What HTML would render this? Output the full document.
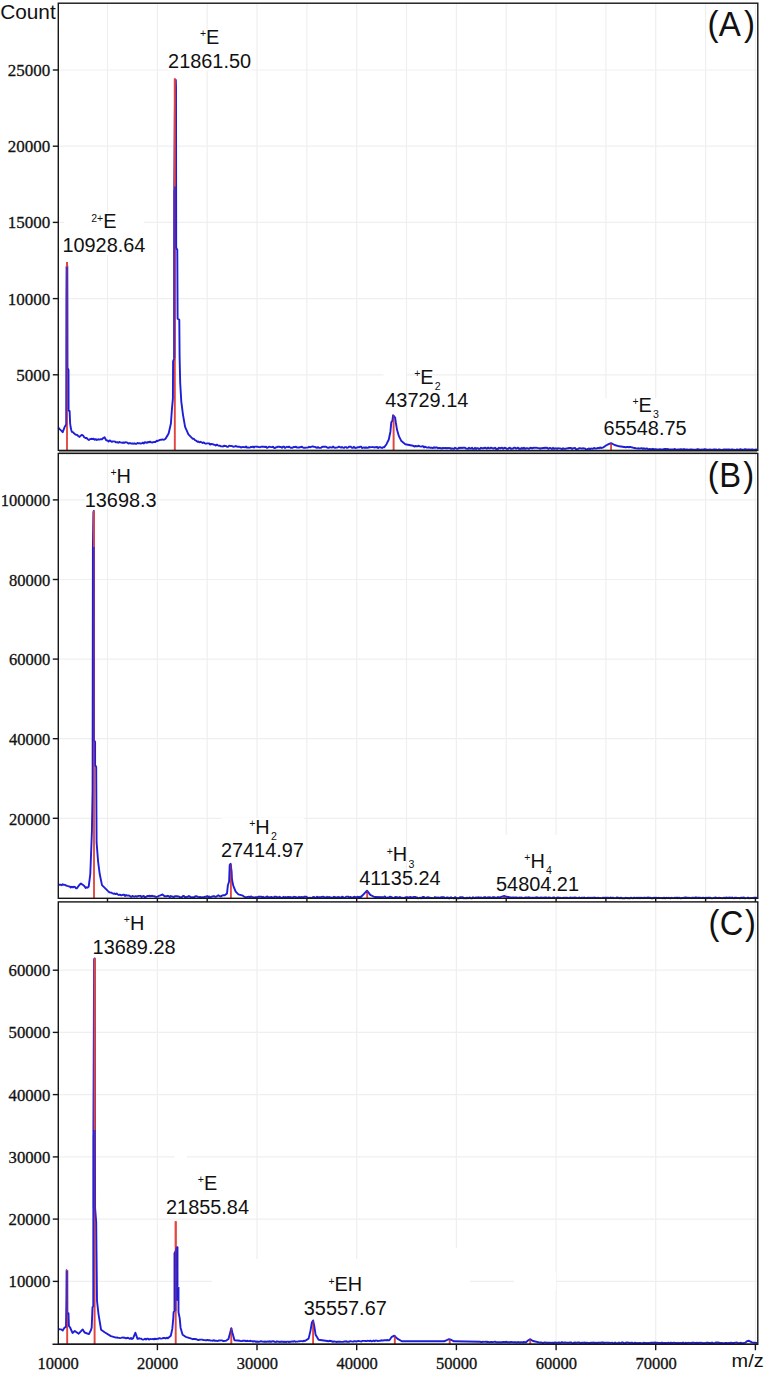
<!DOCTYPE html>
<html><head><meta charset="utf-8"><style>
html,body{margin:0;padding:0;background:#fff;}
body{width:765px;height:1373px;overflow:hidden;font-family:"Liberation Sans",sans-serif;}
svg{display:block;}
</style></head><body>
<svg width="765" height="1373" viewBox="0 0 765 1373">
<g stroke="#efefef" stroke-width="1.2"><line x1="107.5" y1="3.2" x2="107.5" y2="450.4"/><line x1="157.4" y1="3.2" x2="157.4" y2="450.4"/><line x1="207.2" y1="3.2" x2="207.2" y2="450.4"/><line x1="257.0" y1="3.2" x2="257.0" y2="450.4"/><line x1="306.9" y1="3.2" x2="306.9" y2="450.4"/><line x1="356.7" y1="3.2" x2="356.7" y2="450.4"/><line x1="406.5" y1="3.2" x2="406.5" y2="450.4"/><line x1="456.4" y1="3.2" x2="456.4" y2="450.4"/><line x1="506.2" y1="3.2" x2="506.2" y2="450.4"/><line x1="556.1" y1="3.2" x2="556.1" y2="450.4"/><line x1="605.9" y1="3.2" x2="605.9" y2="450.4"/><line x1="655.7" y1="3.2" x2="655.7" y2="450.4"/><line x1="705.6" y1="3.2" x2="705.6" y2="450.4"/><line x1="755.4" y1="3.2" x2="755.4" y2="450.4"/><line x1="58.3" y1="374.8" x2="757.8" y2="374.8"/><line x1="58.3" y1="298.6" x2="757.8" y2="298.6"/><line x1="58.3" y1="222.4" x2="757.8" y2="222.4"/><line x1="58.3" y1="146.2" x2="757.8" y2="146.2"/><line x1="58.3" y1="70.0" x2="757.8" y2="70.0"/><line x1="107.5" y1="453.4" x2="107.5" y2="898.3"/><line x1="157.4" y1="453.4" x2="157.4" y2="898.3"/><line x1="207.2" y1="453.4" x2="207.2" y2="898.3"/><line x1="257.0" y1="453.4" x2="257.0" y2="898.3"/><line x1="306.9" y1="453.4" x2="306.9" y2="898.3"/><line x1="356.7" y1="453.4" x2="356.7" y2="898.3"/><line x1="406.5" y1="453.4" x2="406.5" y2="898.3"/><line x1="456.4" y1="453.4" x2="456.4" y2="898.3"/><line x1="506.2" y1="453.4" x2="506.2" y2="898.3"/><line x1="556.1" y1="453.4" x2="556.1" y2="898.3"/><line x1="605.9" y1="453.4" x2="605.9" y2="898.3"/><line x1="655.7" y1="453.4" x2="655.7" y2="898.3"/><line x1="705.6" y1="453.4" x2="705.6" y2="898.3"/><line x1="755.4" y1="453.4" x2="755.4" y2="898.3"/><line x1="58.3" y1="818.3" x2="757.8" y2="818.3"/><line x1="58.3" y1="738.7" x2="757.8" y2="738.7"/><line x1="58.3" y1="659.1" x2="757.8" y2="659.1"/><line x1="58.3" y1="579.5" x2="757.8" y2="579.5"/><line x1="58.3" y1="499.9" x2="757.8" y2="499.9"/><line x1="157.4" y1="901.9" x2="157.4" y2="1344.3"/><line x1="257.0" y1="901.9" x2="257.0" y2="1344.3"/><line x1="356.7" y1="901.9" x2="356.7" y2="1344.3"/><line x1="456.4" y1="901.9" x2="456.4" y2="1344.3"/><line x1="556.1" y1="901.9" x2="556.1" y2="1344.3"/><line x1="655.7" y1="901.9" x2="655.7" y2="1344.3"/><line x1="755.4" y1="901.9" x2="755.4" y2="1344.3"/><line x1="58.3" y1="1281.4" x2="757.8" y2="1281.4"/><line x1="58.3" y1="1219.1" x2="757.8" y2="1219.1"/><line x1="58.3" y1="1156.9" x2="757.8" y2="1156.9"/><line x1="58.3" y1="1094.6" x2="757.8" y2="1094.6"/><line x1="58.3" y1="1032.4" x2="757.8" y2="1032.4"/><line x1="58.3" y1="970.2" x2="757.8" y2="970.2"/></g>
<g fill="#fff"><rect x="64" y="213" width="80" height="42"/><rect x="168" y="29" width="83.5" height="41.5"/><rect x="383.5" y="370" width="22.19999999999999" height="10"/><rect x="603" y="398" width="84" height="40"/><rect x="85" y="492" width="71" height="16"/><rect x="221" y="818" width="83" height="42"/><rect x="497" y="835" width="81" height="58"/><rect x="174.5" y="1150" width="12.5" height="12"/><rect x="212" y="1259" width="251" height="84"/><rect x="514" y="1272" width="42" height="18"/><rect x="440" y="1248" width="30" height="95"/></g>
<g stroke="#e2463f" stroke-width="1.8"><line x1="67.0" y1="262" x2="67.0" y2="450.4"/><line x1="174.8" y1="78.5" x2="174.8" y2="450.4"/><line x1="393.6" y1="415" x2="393.6" y2="450.4"/><line x1="611.1" y1="443.1" x2="611.1" y2="450.4"/><line x1="94.0" y1="510.9" x2="94.0" y2="898.3"/><line x1="230.9" y1="864" x2="230.9" y2="898.3"/><line x1="367.2" y1="890.7" x2="367.2" y2="898.3"/><line x1="504.2" y1="896" x2="504.2" y2="898.3"/><line x1="67.2" y1="1270" x2="67.2" y2="1344.3"/><line x1="94.6" y1="958.3" x2="94.6" y2="1344.3"/><line x1="175.7" y1="1221.3" x2="175.7" y2="1344.3"/><line x1="231.3" y1="1328" x2="231.3" y2="1344.3"/><line x1="313.1" y1="1320.4" x2="313.1" y2="1344.3"/><line x1="394.8" y1="1335.4" x2="394.8" y2="1344.3"/><line x1="449.7" y1="1339" x2="449.7" y2="1344.3"/><line x1="530.3" y1="1339.2" x2="530.3" y2="1344.3"/></g>
<g fill="#3212a8"><polygon points="174.3,1253.0 176.5,1247.0 177.8,1247.0 177.8,1287.0 176.4,1287.0 176.4,1311.0 174.3,1311.0"/><polygon points="92.9,1135.0 94.5,1135.0 95.3,1208.0 92.9,1208.0"/><polygon points="173.6,190.0 175.3,190.0 175.3,358.0 173.6,358.0"/></g>
<polyline fill="none" stroke="#1e1ed8" stroke-width="1.9" stroke-linejoin="round" points="58.3,427.5 59.9,429.4 61.3,430.6 62.7,432.2 64.6,427.1 65.8,425.0 66.2,424.7 66.4,300.0 66.6,266.7 67.3,266.0 67.4,300.0 67.5,368.0 68.5,370.0 68.6,410.6 69.6,411.0 70.1,423.1 70.6,427.0 71.3,430.0 71.8,431.8 72.9,432.1 74.0,433.3 75.2,434.3 76.4,434.9 77.4,435.0 78.5,436.3 79.5,436.9 80.7,435.7 81.9,434.9 83.1,435.5 84.2,437.3 85.4,438.0 86.6,438.0 87.7,439.2 88.9,440.0 90.1,439.1 91.2,438.8 92.4,439.0 93.6,438.8 94.7,439.7 95.7,439.1 96.8,440.0 98.1,439.3 99.4,439.6 100.7,439.2 102.0,439.2 103.3,438.0 104.6,437.3 106.2,440.4 107.4,440.5 108.6,441.5 109.7,440.4 110.9,441.2 111.9,441.9 112.9,441.4 114.0,441.4 115.0,441.6 116.0,442.4 117.1,442.1 118.2,442.8 119.3,442.0 120.4,442.4 121.4,442.6 122.4,442.8 123.4,442.5 124.4,442.9 125.4,442.3 126.4,442.4 127.4,442.7 128.4,443.5 129.4,443.2 130.4,443.1 131.4,443.6 132.4,443.5 133.4,443.7 134.4,443.3 135.5,443.9 136.5,443.7 137.6,443.0 138.6,443.4 139.7,443.2 140.7,443.6 141.8,443.3 142.8,442.6 143.9,443.5 144.9,442.2 145.9,442.5 147.0,442.9 148.0,442.0 149.1,442.3 150.1,441.6 151.2,442.4 152.2,442.5 153.3,442.1 154.3,441.9 155.4,442.0 156.6,440.8 157.7,441.0 158.9,440.4 160.0,439.9 161.1,439.8 162.2,439.4 163.3,439.7 164.4,439.6 165.5,438.8 166.6,436.9 167.6,435.4 168.7,433.3 170.9,423.5 172.0,408.2 172.9,398.4 173.1,361.2 174.2,359.0 174.3,186.5 174.8,120.0 175.2,80.0 175.8,80.0 176.0,87.3 176.2,247.6 177.3,250.0 177.6,318.6 179.3,319.7 179.6,356.8 180.2,383.0 181.3,401.6 183.0,414.8 185.1,426.8 188.4,434.4 192.8,438.8 193.9,438.7 195.0,440.2 196.1,440.6 197.2,441.7 198.3,441.5 199.4,442.3 200.5,441.8 201.6,442.3 202.6,443.0 203.7,442.4 204.8,443.3 205.9,443.7 207.0,443.4 208.1,443.4 209.2,443.5 210.2,444.6 211.3,443.9 212.4,444.2 213.5,444.5 214.6,444.8 215.7,445.5 216.8,444.6 217.8,445.3 218.9,445.7 220.0,445.8 221.0,446.4 222.0,446.4 223.0,446.5 224.0,445.7 225.0,446.0 226.0,445.9 227.0,446.7 228.0,446.9 229.0,445.8 230.0,445.9 231.0,446.0 232.0,446.1 233.0,446.5 234.0,446.7 235.0,446.3 236.0,446.0 237.0,446.6 238.0,446.8 239.0,446.6 240.0,446.9 241.0,447.5 242.0,447.2 243.0,446.9 244.0,447.1 245.0,447.2 246.0,446.4 247.0,447.6 248.0,447.4 249.0,447.6 250.0,447.5 251.0,446.9 252.0,447.0 253.0,446.6 254.0,447.4 255.0,446.6 256.0,446.6 257.0,446.8 258.0,446.8 259.0,447.1 260.0,447.3 261.0,446.7 262.0,446.6 263.0,446.8 264.0,446.7 265.0,447.1 266.0,446.6 267.0,447.8 268.0,447.4 269.0,446.8 270.0,446.9 271.0,447.1 272.0,447.1 273.0,446.7 274.0,447.8 275.0,448.0 276.0,447.2 277.0,447.2 278.0,446.7 279.0,446.7 280.0,447.0 281.0,446.9 282.0,447.7 283.0,446.8 284.0,446.6 285.0,447.9 286.0,447.3 287.0,446.7 288.0,447.3 289.0,446.6 290.0,447.3 291.0,447.9 292.0,447.7 293.0,447.5 294.0,446.9 295.0,447.0 296.0,446.7 297.0,447.6 298.0,447.3 299.0,447.6 300.0,447.2 301.0,447.0 302.0,446.8 303.0,447.6 304.0,447.9 305.0,447.7 306.0,447.6 307.0,447.6 308.0,447.5 309.0,446.8 310.0,447.2 311.0,447.0 312.0,446.5 313.0,446.5 314.0,446.9 315.0,446.9 316.0,447.5 317.0,447.8 318.0,447.1 319.0,447.8 320.0,447.9 321.0,447.8 322.0,447.0 323.0,446.8 324.0,446.8 325.0,446.8 326.0,446.8 327.0,447.4 328.0,447.8 329.0,447.7 330.0,447.2 331.0,447.4 332.0,447.6 333.0,446.6 334.0,447.4 335.0,447.8 336.0,447.6 337.0,447.6 338.0,447.2 339.0,446.7 340.0,447.2 341.0,447.6 342.0,447.0 343.0,447.6 344.0,447.9 345.0,447.1 346.0,447.1 347.0,447.9 348.0,447.6 349.0,446.8 350.0,446.7 351.0,446.8 352.0,447.8 353.0,447.7 354.0,446.8 355.0,447.8 356.0,448.0 357.0,447.5 358.0,447.1 359.0,447.4 360.0,446.8 361.0,446.7 362.0,448.0 363.0,447.6 364.0,447.4 365.0,448.0 366.0,447.3 367.0,447.9 368.0,447.8 369.0,447.0 370.0,447.4 371.0,447.1 372.0,447.1 373.0,447.0 374.0,447.5 375.0,447.1 376.0,447.3 377.1,446.9 378.1,448.0 379.1,447.2 380.1,447.3 381.1,447.5 382.1,448.0 383.1,447.3 384.1,447.4 386.5,444.2 388.8,439.5 390.4,431.7 391.3,422.3 392.4,420.7 393.1,415.2 394.3,416.8 395.1,417.5 395.9,423.0 397.1,430.1 399.0,436.4 401.4,441.1 405.3,444.2 413.1,445.8 414.2,446.5 415.4,446.0 416.5,446.2 417.6,446.3 418.7,445.7 419.9,446.4 421.0,446.6 422.0,446.3 423.0,446.1 424.0,447.4 425.0,446.6 426.0,447.2 427.0,447.6 428.0,447.5 429.0,447.3 430.0,447.7 431.0,447.7 432.0,447.8 433.0,448.1 434.0,447.2 435.0,447.9 436.0,447.4 437.0,447.5 438.0,448.2 439.0,447.9 440.0,448.0 441.0,448.2 442.0,448.5 443.0,447.8 444.0,448.1 445.0,448.0 446.0,448.0 447.0,448.3 448.0,447.9 449.0,448.1 450.0,448.0 451.0,448.7 452.0,448.3 453.0,448.6 454.0,448.7 455.0,447.8 456.0,448.2 457.0,448.8 458.0,448.6 459.0,447.7 460.0,448.2 461.0,447.7 462.0,448.1 463.0,447.6 464.0,447.8 465.0,447.6 466.0,448.5 467.0,448.6 468.0,448.8 469.0,447.7 470.0,448.5 471.0,448.5 472.0,447.7 473.0,448.8 474.0,448.9 475.0,447.8 476.0,448.9 477.0,448.1 478.0,448.2 479.0,448.9 480.0,448.7 481.0,447.8 482.0,448.2 483.0,448.3 484.0,448.0 485.0,447.8 486.0,448.0 487.0,448.6 488.0,447.6 489.0,448.3 490.0,448.2 491.0,447.6 492.0,448.0 493.0,448.5 494.0,448.3 495.0,447.7 496.0,449.0 497.0,448.7 498.0,449.0 499.0,447.7 500.0,448.3 501.0,448.0 502.0,447.7 503.0,448.7 504.0,448.0 505.0,447.8 506.0,448.2 507.0,448.9 508.0,448.8 509.0,448.0 510.0,447.8 511.0,448.9 512.0,448.4 513.0,448.6 514.0,447.7 515.0,447.7 516.0,448.6 517.0,448.2 518.0,447.7 519.0,448.9 520.0,448.5 521.0,448.8 522.0,447.8 523.0,448.8 524.0,447.7 525.0,448.8 526.0,448.3 527.0,448.1 528.0,448.4 529.0,448.9 530.0,448.0 531.0,447.8 532.0,448.4 533.0,448.0 534.0,447.8 535.0,447.9 536.0,447.7 537.0,447.9 538.0,448.1 539.0,448.1 540.0,448.7 541.0,448.1 542.0,448.4 543.0,447.9 544.0,448.2 545.0,447.7 546.0,448.0 547.0,447.7 548.0,448.7 549.0,448.5 550.0,447.9 551.0,448.3 552.0,449.0 553.0,447.8 554.0,448.8 555.0,448.3 556.0,448.4 557.0,448.9 558.0,448.2 559.0,448.4 560.0,448.4 561.0,448.7 562.0,449.1 563.0,448.2 564.0,448.9 565.0,448.8 566.0,448.7 567.0,448.4 568.0,448.3 569.0,447.9 570.0,448.0 571.0,447.9 572.0,448.9 573.0,448.2 574.0,448.1 575.0,448.0 576.0,449.1 577.0,449.1 578.0,448.9 579.0,448.3 580.0,448.3 581.0,448.4 582.0,448.6 583.0,448.2 584.0,448.6 585.0,448.4 586.0,449.4 587.0,449.4 588.0,448.8 589.0,448.4 590.0,449.4 591.0,448.5 592.0,448.6 593.0,448.8 594.0,448.0 595.0,448.4 596.0,448.5 597.0,448.4 598.0,447.9 599.0,448.2 600.0,447.4 601.0,448.0 603.5,447.3 606.0,445.5 608.1,444.4 611.1,443.1 614.6,445.0 619.2,446.3 625.8,447.3 626.8,447.0 627.8,446.9 628.8,447.4 629.8,447.0 630.8,447.0 631.8,447.5 632.8,447.5 633.8,448.0 634.8,448.0 635.8,448.4 636.8,448.4 637.8,448.5 638.8,448.3 639.8,448.6 640.8,448.3 641.8,448.3 642.8,448.9 643.8,448.3 644.8,448.8 645.8,448.8 646.8,448.4 647.8,449.0 648.8,449.1 649.8,449.0 650.8,449.1 651.8,449.2 652.8,448.8 653.8,449.1 654.8,449.2 655.8,449.2 656.8,449.4 657.8,449.4 658.8,449.5 659.8,449.3 660.8,449.5 661.8,449.4 662.8,449.4 663.8,449.1 664.8,449.0 665.8,449.0 666.8,449.2 667.9,449.0 668.9,449.6 669.9,449.4 670.9,449.4 671.9,449.4 672.9,449.5 673.9,449.4 674.9,449.0 675.9,449.6 676.9,449.6 677.9,449.4 678.9,449.4 679.9,449.5 680.9,449.1 681.9,449.6 682.9,449.3 683.9,449.2 684.9,449.3 685.9,449.6 686.9,449.3 687.9,449.7 689.0,449.8 690.0,449.5 691.0,449.4 692.0,449.5 693.0,449.7 694.0,449.7 695.0,449.6 696.0,449.7 697.0,449.3 698.0,449.3 699.0,449.4 700.0,449.6 701.0,449.8 702.0,449.5 703.0,449.6 704.0,449.3 705.0,449.3 706.0,449.4 707.0,449.7 708.0,449.7 709.0,449.7 710.0,449.5 711.0,449.6 712.0,449.6 713.0,449.6 714.0,449.3 715.0,449.9 716.0,449.4 717.0,449.9 718.0,449.9 719.0,449.3 720.0,449.6 721.0,449.8 722.0,449.9 723.0,449.6 724.0,449.4 725.0,449.4 726.0,449.9 727.0,449.4 728.0,449.7 729.0,449.3 730.0,449.6 731.0,449.9 732.0,449.3 733.0,449.8 734.0,449.6 735.0,449.9 736.0,449.7 737.0,449.4 738.0,449.9 739.0,449.6 740.0,449.3 741.0,449.3 742.0,449.6 743.0,449.6 744.0,449.5 745.0,449.3 746.0,449.5 747.0,449.5 748.0,449.8 749.0,449.3 750.0,449.8 751.0,449.8 752.0,449.3 753.0,449.9 754.0,449.7 755.0,449.9 756.0,449.5 757.0,449.6"/>
<polyline fill="none" stroke="#1e1ed8" stroke-width="1.9" stroke-linejoin="round" points="58.3,885.1 59.4,884.7 60.5,884.6 61.7,885.2 62.8,884.3 63.9,884.8 64.9,884.9 66.0,885.5 67.2,885.9 68.3,886.2 69.5,886.4 70.7,887.5 71.7,886.7 72.8,887.4 73.8,886.7 74.9,886.9 75.9,888.3 77.0,888.2 78.3,886.3 79.6,884.7 80.9,883.5 82.0,884.3 83.0,885.0 84.3,886.0 85.6,887.9 86.6,887.3 87.7,887.7 88.7,886.7 90.3,874.0 91.9,831.8 92.6,790.0 92.9,547.0 93.4,512.0 93.8,511.0 93.9,740.0 95.1,742.0 95.1,765.0 96.2,767.0 96.6,842.7 98.1,861.6 99.7,874.0 102.0,885.1 108.3,891.4 109.3,892.3 110.4,892.5 111.4,892.6 112.5,893.4 113.5,893.7 114.6,893.5 115.6,894.1 116.7,893.5 117.7,894.5 118.7,895.0 119.8,894.7 120.8,895.2 121.9,895.2 122.9,894.8 124.0,894.6 125.0,896.0 126.1,895.0 127.1,895.6 128.2,895.5 129.2,895.6 130.3,896.4 131.3,896.8 132.4,895.9 133.4,896.4 134.4,896.6 135.5,896.1 136.5,896.5 137.5,896.3 138.5,895.9 139.6,895.9 140.6,896.0 141.6,897.0 142.6,896.4 143.7,896.0 144.7,897.0 145.7,897.1 146.7,896.3 147.8,895.9 148.8,896.0 149.8,895.8 150.8,896.2 151.8,895.8 152.9,896.0 153.9,896.1 154.9,896.5 155.9,896.9 157.0,896.7 158.0,896.4 159.2,895.7 160.5,895.3 161.5,894.8 162.5,894.5 163.7,895.5 164.8,896.4 165.8,896.2 166.8,896.2 167.8,895.8 168.8,896.1 169.8,897.1 170.8,896.0 171.8,896.5 172.8,896.7 173.9,897.0 174.9,896.1 175.9,896.2 176.9,896.2 177.9,896.4 178.9,896.5 179.9,897.2 180.9,897.1 181.9,897.2 182.9,896.0 183.9,896.0 184.9,897.0 185.9,897.3 186.9,896.7 187.9,896.9 188.9,896.0 189.9,896.6 190.9,897.4 192.0,897.2 193.0,897.3 194.0,897.5 195.0,896.5 196.0,896.3 197.0,896.4 198.0,896.9 199.0,897.1 200.0,896.9 201.0,897.5 202.1,897.2 203.1,897.1 204.1,897.2 205.2,896.7 206.2,896.9 207.2,896.1 208.2,897.1 209.3,896.4 210.3,897.3 211.3,896.9 212.4,896.4 213.4,896.1 214.4,896.3 215.5,896.8 216.5,896.6 218.3,895.3 219.7,896.2 221.0,896.6 222.2,895.6 223.5,895.1 224.7,895.3 227.0,893.4 227.9,885.2 229.1,881.5 229.7,865.1 230.6,863.7 231.6,871.5 232.0,879.7 233.4,886.1 235.7,891.6 238.4,894.3 242.1,895.3 244.8,897.0 245.8,897.1 246.8,897.2 247.8,896.9 248.8,896.7 249.9,897.2 250.9,896.4 251.9,896.9 252.9,897.1 253.9,897.8 254.9,897.2 256.1,897.2 257.4,897.3 258.6,896.6 259.8,896.8 261.0,896.6 262.2,897.2 263.2,896.8 264.2,897.9 265.3,897.5 266.3,896.9 267.3,896.5 268.3,897.2 269.4,897.5 270.4,897.1 271.4,896.9 272.4,897.5 273.4,897.8 274.5,896.8 275.5,896.6 276.5,897.0 277.5,897.1 278.5,897.5 279.6,896.8 280.6,897.7 281.6,897.6 282.6,897.3 283.7,896.8 284.7,897.9 285.7,897.0 286.7,897.7 287.7,896.9 288.8,896.9 289.8,897.6 290.8,897.0 291.8,897.9 292.8,897.3 293.9,896.8 294.9,896.9 295.9,897.2 296.9,897.5 298.0,897.9 299.0,896.8 300.0,897.3 301.0,897.2 302.0,896.9 303.0,898.0 304.0,896.8 305.0,896.7 306.0,896.7 307.0,897.2 308.0,897.9 309.0,897.9 310.0,897.7 311.0,898.0 312.0,897.9 313.0,897.1 314.0,896.9 315.0,897.9 316.0,897.7 317.0,896.7 318.0,897.6 319.0,897.2 320.0,897.2 321.0,897.1 322.0,896.9 323.0,896.7 324.0,897.1 325.0,897.2 326.0,898.0 327.0,896.8 328.0,898.0 329.0,897.0 330.0,897.2 331.0,897.8 332.0,897.8 333.0,897.3 334.0,896.8 335.0,897.4 336.0,897.2 337.0,898.0 338.0,897.0 339.0,897.2 340.0,897.4 341.0,897.9 342.1,896.7 343.1,897.2 344.2,897.8 345.2,897.7 346.3,896.6 347.3,896.6 348.4,896.6 349.4,897.8 350.4,896.9 351.5,897.5 352.5,897.7 353.6,896.9 354.6,896.8 355.7,897.7 356.7,897.2 357.8,896.7 358.8,897.3 359.9,896.8 360.9,897.0 364.0,893.8 367.0,890.7 370.3,894.9 374.5,897.0 382.9,897.2 383.9,896.9 384.9,896.5 385.9,897.6 386.9,897.8 387.9,897.4 388.9,897.9 389.9,896.6 390.9,896.9 391.9,897.3 392.9,897.9 393.9,898.0 394.9,897.2 395.9,897.0 396.9,897.3 397.9,897.4 398.9,898.0 399.9,896.9 400.9,897.8 402.0,897.7 403.0,897.9 404.0,897.8 405.0,897.6 406.0,897.2 407.0,897.2 408.0,897.3 409.0,897.9 410.0,896.9 411.0,897.1 412.0,897.9 413.0,897.2 414.0,896.9 415.0,896.9 416.0,897.6 417.0,897.3 418.0,898.3 419.0,898.1 420.0,897.6 421.0,898.3 422.0,897.3 423.0,897.0 424.0,897.0 425.0,897.6 426.0,897.9 427.0,897.5 428.0,897.3 429.0,897.5 430.0,897.8 431.0,897.9 432.0,898.0 433.0,898.1 434.0,897.9 435.0,897.1 436.0,898.1 437.0,897.4 438.0,897.8 439.0,897.5 440.0,898.0 441.0,897.2 442.0,897.3 443.0,897.3 444.0,897.2 445.0,898.2 446.0,897.8 447.0,897.4 448.0,897.5 449.0,898.4 450.0,897.7 451.0,897.3 452.0,898.1 453.0,897.9 454.0,898.4 455.0,897.2 456.0,897.7 457.0,898.2 458.0,898.2 459.0,898.3 460.0,897.1 461.0,897.4 462.0,897.2 463.0,897.3 464.0,898.4 465.0,897.9 466.0,898.4 467.0,897.6 468.0,898.3 469.0,897.7 470.0,897.4 471.0,898.2 472.0,898.4 473.0,897.2 474.0,897.9 475.0,898.0 476.0,897.4 477.0,897.6 478.0,897.3 479.0,897.4 480.0,897.8 481.0,897.4 482.0,897.9 483.0,898.0 484.0,897.3 485.0,897.1 486.0,897.5 487.0,898.0 488.0,897.3 489.0,897.4 490.0,897.3 491.0,898.1 492.0,897.7 493.0,897.1 494.0,897.1 495.0,897.5 496.0,897.7 497.0,897.8 498.0,897.0 499.0,897.6 502.0,896.6 504.2,896.0 506.5,896.8 512.0,897.6 513.0,897.3 514.0,897.8 515.0,897.5 516.0,897.4 517.0,897.5 518.0,898.0 519.0,897.5 520.0,897.7 521.0,897.5 522.0,897.6 523.0,897.9 524.0,898.0 525.0,897.5 526.0,897.4 527.0,897.8 528.0,897.4 529.0,897.3 530.0,898.0 531.0,897.6 532.0,897.9 533.0,897.6 534.0,898.0 535.0,897.6 536.0,897.4 537.0,897.3 538.0,897.7 539.0,897.8 540.0,898.0 541.0,897.4 542.0,897.8 543.0,897.6 544.0,897.7 545.0,897.4 546.0,897.5 547.0,897.7 548.0,898.1 549.0,897.4 550.0,897.7 551.0,898.0 552.0,898.1 553.0,897.5 554.0,897.4 555.0,898.1 556.0,898.1 557.0,897.7 558.0,897.4 559.0,898.1 560.0,897.7 561.0,898.1 562.0,897.9 563.0,898.0 564.0,897.5 565.0,898.0 566.0,897.6 567.0,897.7 568.0,898.1 569.0,898.1 570.0,897.5 571.0,897.6 572.0,897.7 573.0,897.8 574.0,897.7 575.0,897.5 576.0,897.6 577.0,898.0 578.0,898.1 579.0,897.5 580.0,897.9 581.0,898.0 582.0,897.5 583.0,898.1 584.0,897.5 585.0,897.9 586.0,897.9 587.0,898.0 588.0,897.7 589.0,897.8 590.0,897.9 591.0,897.8 592.0,898.0 593.0,897.8 594.0,897.8 595.0,897.5 596.0,898.0 597.0,897.9 598.0,897.7 599.0,898.1 600.0,897.9 601.0,898.1 602.0,897.9 603.0,897.6 604.0,897.9 605.0,897.6 606.0,897.6 607.0,897.8 608.0,897.6 609.0,897.9 610.0,897.9 611.0,897.5 612.0,898.0 613.0,897.6 614.0,898.1 615.0,898.1 616.0,897.9 617.0,897.5 618.0,897.9 619.0,897.8 620.0,898.3 621.0,897.6 622.0,898.2 623.0,898.3 624.0,898.1 625.0,898.2 626.0,897.7 627.0,898.3 628.0,897.9 629.0,898.3 630.0,898.2 631.0,897.6 632.0,898.1 633.0,898.2 634.0,897.6 635.0,897.8 636.0,898.1 637.0,897.6 638.0,898.2 639.0,897.7 640.0,898.2 641.0,897.6 642.0,897.9 643.0,898.2 644.0,897.7 645.0,897.7 646.0,897.9 647.0,897.8 648.0,897.5 649.0,897.6 650.0,897.6 651.0,898.2 652.0,898.0 653.0,898.2 654.0,897.6 655.0,898.1 656.0,897.6 657.0,897.9 658.0,898.0 659.0,897.8 660.0,898.2 661.0,897.9 662.0,898.0 663.0,898.2 664.0,897.6 665.0,898.3 666.0,898.0 667.0,897.8 668.0,898.1 669.0,897.7 670.0,898.3 671.0,898.0 672.0,897.8 673.0,898.1 674.0,897.9 675.0,897.6 676.0,898.1 677.0,897.5 678.0,898.2 679.0,897.7 680.0,898.0 681.0,898.3 682.0,898.0 683.0,898.0 684.0,897.8 685.0,897.5 686.0,897.5 687.0,897.6 688.0,898.0 689.0,897.8 690.0,897.9 691.0,898.2 692.0,897.6 693.0,897.7 694.0,898.0 695.0,897.5 696.0,897.5 697.0,897.8 698.0,897.6 699.0,897.8 700.0,897.7 701.0,898.0 702.0,898.0 703.0,897.7 704.0,898.0 705.0,897.9 706.0,897.6 707.0,898.2 708.0,897.7 709.0,897.6 710.0,897.6 711.0,898.0 712.0,898.2 713.0,898.1 714.0,897.8 715.0,897.7 716.0,897.5 717.0,898.0 718.0,897.9 719.0,897.8 720.0,898.0 721.0,897.9 722.0,898.2 723.0,898.1 724.0,897.7 725.0,898.2 726.0,897.5 727.0,897.9 728.0,897.8 729.0,897.7 730.0,897.5 731.0,898.1 732.0,897.5 733.0,897.9 734.0,898.3 735.0,897.6 736.0,897.7 737.0,898.0 738.0,897.9 739.0,898.0 740.0,898.2 741.0,897.6 742.0,897.7 743.0,897.7 744.0,897.5 745.0,898.2 746.0,898.1 747.0,898.1 748.0,897.5 749.0,898.2 750.0,898.1 751.0,897.9 752.0,898.1 753.0,897.9 754.0,897.7 755.0,897.6 756.0,897.7 757.0,897.9"/>
<polyline fill="none" stroke="#1e1ed8" stroke-width="1.9" stroke-linejoin="round" points="58.3,1329.0 59.9,1329.4 61.3,1329.4 62.7,1330.6 64.6,1327.5 66.0,1327.1 66.4,1300.0 66.6,1270.2 67.2,1271.0 67.3,1314.1 68.5,1313.3 68.9,1325.9 70.1,1327.5 72.5,1332.9 74.8,1331.0 78.7,1333.7 82.7,1329.4 84.6,1332.5 88.9,1334.1 91.0,1330.0 91.7,1327.5 92.5,1307.1 93.3,1306.3 93.4,1130.0 94.1,960.0 94.6,958.5 95.1,1208.0 96.2,1222.0 96.5,1252.0 97.0,1300.8 98.5,1314.1 99.9,1322.7 101.1,1329.8 104.6,1332.2 110.9,1336.1 116.0,1337.6 117.0,1337.4 118.0,1337.9 119.0,1337.9 120.0,1338.1 121.0,1337.9 122.0,1337.6 123.0,1337.4 124.0,1337.8 125.0,1337.8 126.0,1338.3 127.0,1338.0 128.0,1337.8 129.0,1338.4 130.0,1338.9 131.0,1337.9 132.0,1339.0 133.0,1338.5 135.4,1332.7 137.5,1338.9 138.0,1338.9 139.0,1338.2 140.0,1338.6 141.0,1338.6 142.0,1339.3 143.0,1339.6 144.0,1339.3 145.0,1338.7 146.0,1339.5 147.0,1338.7 148.0,1338.6 149.0,1339.6 150.0,1339.0 151.0,1339.1 152.0,1339.1 153.0,1339.0 154.0,1339.4 155.0,1338.6 156.0,1339.1 157.0,1338.8 158.0,1338.9 159.0,1338.3 160.0,1338.3 161.1,1338.6 162.3,1338.4 163.4,1338.0 164.5,1337.9 165.6,1338.5 166.8,1337.7 167.9,1338.3 170.8,1335.8 172.3,1328.9 173.3,1318.1 173.6,1312.2 174.5,1311.2 174.5,1253.2 175.7,1251.3 176.5,1247.3 177.5,1247.3 177.5,1285.7 176.0,1270.0 177.0,1300.0 178.5,1287.6 178.5,1312.2 179.7,1318.1 180.6,1327.9 182.6,1334.8 185.6,1336.8 191.4,1338.7 192.6,1339.2 193.8,1338.9 194.9,1339.0 196.1,1339.2 197.3,1339.7 198.3,1340.1 199.4,1339.7 200.4,1339.6 201.4,1339.6 202.4,1339.6 203.5,1340.1 204.5,1340.1 205.5,1340.2 206.6,1340.3 207.6,1339.9 208.6,1340.3 209.6,1340.2 210.7,1340.6 211.7,1340.6 212.7,1340.7 213.7,1340.2 214.8,1340.8 215.8,1340.6 216.8,1340.9 217.8,1341.0 218.9,1340.4 219.9,1340.5 220.9,1340.4 221.9,1340.4 222.9,1341.0 224.0,1341.0 225.0,1340.9 226.0,1340.8 228.5,1339.0 229.8,1334.0 231.3,1328.2 232.5,1333.0 234.5,1340.2 240.0,1340.8 241.0,1341.1 242.0,1341.0 243.0,1340.7 244.0,1340.6 245.0,1340.7 246.0,1341.2 247.0,1340.8 248.0,1341.0 249.0,1341.1 250.0,1340.8 251.0,1341.0 252.0,1341.1 253.0,1341.5 254.0,1341.3 255.0,1341.3 256.0,1341.8 257.0,1341.5 258.0,1341.8 259.0,1341.7 260.0,1341.6 261.0,1341.2 262.0,1341.5 263.0,1341.6 264.0,1341.8 265.0,1341.5 266.0,1341.8 267.0,1341.7 268.0,1341.4 269.0,1341.9 270.0,1341.3 271.0,1341.9 272.0,1341.4 273.0,1341.3 274.0,1341.5 275.0,1341.9 276.0,1342.1 277.0,1341.3 278.0,1341.7 279.0,1341.7 280.0,1342.0 281.0,1341.5 282.0,1341.7 283.0,1341.6 284.0,1342.0 285.0,1341.6 286.0,1342.1 287.0,1341.6 288.0,1341.6 289.0,1342.0 290.0,1341.8 291.1,1341.7 292.1,1341.4 293.2,1341.7 294.3,1341.2 295.3,1341.7 296.4,1341.6 297.4,1341.6 298.5,1341.4 299.6,1341.2 300.6,1341.1 301.7,1341.1 302.8,1341.4 303.8,1340.7 304.9,1341.0 308.6,1338.6 310.4,1331.1 311.9,1322.4 313.1,1320.4 314.3,1326.1 315.6,1334.8 318.6,1339.8 327.3,1341.0 328.4,1341.4 329.5,1340.8 330.6,1341.0 331.7,1341.2 332.8,1341.8 333.9,1341.5 335.0,1341.5 336.1,1342.0 337.2,1341.8 338.2,1341.6 339.2,1341.7 340.2,1341.8 341.2,1341.9 342.2,1341.9 343.3,1341.8 344.3,1341.5 345.3,1341.5 346.3,1341.3 347.3,1341.8 348.3,1341.7 349.3,1341.7 350.3,1341.2 351.3,1341.4 352.3,1341.6 353.4,1341.5 354.4,1341.1 355.4,1341.3 356.4,1341.6 357.4,1341.1 358.4,1341.0 359.4,1341.1 360.4,1341.4 361.4,1341.5 362.4,1340.9 363.4,1340.9 364.5,1340.9 365.5,1341.0 366.5,1341.1 367.5,1340.8 368.5,1340.9 369.5,1341.0 370.5,1340.7 371.6,1341.3 372.6,1341.1 373.7,1340.5 374.7,1341.2 375.8,1340.5 376.8,1340.6 377.9,1341.1 378.9,1340.9 380.0,1340.8 381.0,1340.5 382.1,1340.3 383.1,1340.6 384.2,1340.2 385.2,1340.2 386.3,1340.3 387.3,1340.0 388.4,1340.3 389.4,1340.3 391.8,1336.8 394.3,1335.6 397.3,1338.6 401.8,1341.3 444.0,1341.3 446.0,1340.5 449.0,1339.1 451.5,1340.0 453.9,1341.3 480.0,1341.8 481.0,1342.0 482.0,1342.0 483.0,1341.8 484.0,1341.9 485.0,1341.8 486.0,1341.6 487.0,1342.0 488.0,1341.8 489.0,1342.1 490.0,1342.2 491.0,1341.9 492.0,1342.0 493.0,1342.1 494.0,1341.9 495.0,1341.7 496.0,1342.2 497.0,1342.3 498.0,1342.2 499.0,1342.2 500.0,1342.3 501.0,1342.2 502.0,1342.2 503.0,1342.0 504.0,1341.9 505.0,1342.2 506.0,1341.8 507.0,1342.0 508.0,1342.3 509.0,1342.3 510.0,1342.2 511.0,1341.9 512.0,1342.1 513.0,1342.1 514.0,1342.3 515.0,1342.1 516.0,1342.3 517.0,1342.5 518.0,1342.0 519.0,1342.3 520.0,1342.5 521.0,1342.2 522.0,1342.2 523.0,1342.6 524.0,1341.9 525.0,1342.3 526.0,1342.3 528.0,1340.5 530.3,1339.2 533.0,1341.0 540.0,1342.6 541.0,1342.3 542.0,1342.8 543.0,1343.0 544.0,1342.6 545.0,1342.3 546.0,1342.7 547.0,1342.7 548.0,1342.8 549.0,1342.6 550.0,1342.7 551.0,1342.9 552.0,1342.7 553.0,1342.6 554.0,1343.0 555.0,1342.4 556.0,1342.8 557.0,1342.6 558.0,1342.9 559.0,1342.4 560.0,1343.0 561.0,1342.5 562.0,1342.3 563.0,1342.5 564.0,1342.6 565.0,1342.3 566.0,1342.6 567.0,1342.6 568.0,1342.8 569.0,1342.6 570.0,1342.5 571.0,1342.5 572.0,1342.9 573.0,1343.1 574.0,1342.7 575.0,1342.5 576.0,1342.9 577.0,1342.6 578.0,1342.5 579.0,1342.4 580.0,1342.9 581.0,1343.0 582.0,1342.8 583.0,1342.7 584.0,1342.8 585.0,1342.5 586.0,1343.1 587.0,1342.6 588.0,1342.9 589.0,1343.0 590.0,1343.0 591.0,1342.7 592.0,1342.6 593.0,1342.8 594.0,1342.5 595.0,1343.0 596.0,1342.7 597.0,1343.1 598.0,1342.6 599.0,1342.7 600.0,1342.6 601.0,1342.7 602.0,1342.5 603.0,1342.4 604.0,1343.0 605.0,1342.6 606.0,1342.6 607.0,1342.6 608.0,1342.8 609.0,1342.7 610.0,1342.9 611.0,1342.9 612.0,1342.7 613.0,1343.2 614.0,1343.1 615.0,1342.5 616.0,1343.1 617.0,1343.2 618.0,1343.1 619.0,1342.5 620.0,1343.1 621.0,1342.9 622.0,1342.5 623.0,1342.5 624.0,1343.2 625.0,1343.0 626.0,1342.7 627.0,1342.5 628.0,1342.6 629.0,1342.7 630.0,1343.1 631.0,1342.8 632.0,1342.6 633.0,1343.2 634.0,1343.1 635.0,1342.6 636.0,1343.2 637.0,1343.0 638.0,1343.1 639.0,1343.0 640.0,1342.9 641.0,1343.2 642.0,1343.1 643.0,1343.2 644.0,1342.7 645.0,1343.1 646.0,1342.9 647.0,1343.1 648.0,1342.9 649.0,1343.2 650.0,1342.9 651.0,1342.7 652.0,1342.7 653.0,1342.6 654.0,1342.9 655.0,1342.5 656.0,1342.9 657.0,1342.6 658.0,1342.9 659.0,1342.9 660.0,1342.9 661.0,1343.2 662.0,1342.5 663.0,1343.2 664.0,1342.9 665.0,1343.0 666.0,1343.0 667.0,1343.2 668.0,1342.8 669.0,1342.8 670.0,1343.3 671.0,1342.6 672.0,1343.0 673.0,1343.0 674.0,1342.5 675.0,1343.0 676.0,1343.0 677.0,1343.2 678.0,1342.8 679.0,1343.3 680.0,1342.9 681.0,1342.9 682.0,1343.2 683.0,1342.5 684.0,1343.1 685.0,1343.0 686.0,1342.8 687.0,1343.2 688.0,1342.8 689.0,1342.9 690.0,1342.9 691.0,1343.1 692.0,1342.7 693.0,1342.8 694.0,1342.8 695.0,1342.9 696.0,1343.2 697.0,1342.7 698.0,1343.2 699.0,1342.8 700.0,1342.9 701.0,1342.7 702.0,1342.9 703.0,1343.3 704.0,1343.0 705.0,1343.1 706.0,1342.8 707.0,1342.8 708.0,1342.7 709.0,1343.0 710.0,1343.0 711.0,1343.1 712.0,1342.5 713.0,1343.1 714.0,1343.2 715.0,1342.9 716.0,1342.5 717.0,1342.7 718.0,1342.5 719.0,1342.7 720.0,1343.2 721.0,1343.0 722.0,1343.0 723.0,1343.1 724.0,1343.2 725.0,1343.0 726.0,1343.0 727.0,1343.0 728.0,1343.1 729.0,1343.0 730.0,1343.0 731.0,1342.7 732.0,1343.0 733.0,1342.9 734.0,1343.1 735.0,1342.6 736.0,1342.6 737.0,1342.5 738.0,1343.1 739.0,1343.2 740.0,1343.0 741.0,1342.8 742.0,1343.2 743.0,1343.1 744.0,1342.9 745.0,1342.9 747.0,1341.2 749.0,1340.8 752.0,1342.4 757.0,1342.9"/>
<g stroke="#e2463f" stroke-width="1.8" stroke-opacity="0.35"><line x1="67.0" y1="262" x2="67.0" y2="450.4"/><line x1="174.8" y1="78.5" x2="174.8" y2="450.4"/><line x1="393.6" y1="415" x2="393.6" y2="450.4"/><line x1="611.1" y1="443.1" x2="611.1" y2="450.4"/><line x1="94.0" y1="510.9" x2="94.0" y2="898.3"/><line x1="230.9" y1="864" x2="230.9" y2="898.3"/><line x1="367.2" y1="890.7" x2="367.2" y2="898.3"/><line x1="504.2" y1="896" x2="504.2" y2="898.3"/><line x1="67.2" y1="1270" x2="67.2" y2="1344.3"/><line x1="94.6" y1="958.3" x2="94.6" y2="1344.3"/><line x1="175.7" y1="1221.3" x2="175.7" y2="1344.3"/><line x1="231.3" y1="1328" x2="231.3" y2="1344.3"/><line x1="313.1" y1="1320.4" x2="313.1" y2="1344.3"/><line x1="394.8" y1="1335.4" x2="394.8" y2="1344.3"/><line x1="449.7" y1="1339" x2="449.7" y2="1344.3"/><line x1="530.3" y1="1339.2" x2="530.3" y2="1344.3"/></g>
<g stroke="#e2463f" stroke-width="1.8"><line x1="67.0" y1="262" x2="67.0" y2="267"/><line x1="174.8" y1="78.5" x2="174.8" y2="186.5"/><line x1="94.0" y1="510.9" x2="94.0" y2="547"/><line x1="94.6" y1="958.3" x2="94.6" y2="1130"/><line x1="175.7" y1="1221.3" x2="175.7" y2="1247"/><line x1="67.2" y1="1270" x2="67.2" y2="1271"/></g>
<g fill="none" stroke="#161616" stroke-width="1.4"><rect x="58.3" y="3.2" width="699.5" height="447.2"/><rect x="58.3" y="453.4" width="699.5" height="444.9"/><rect x="58.3" y="901.9" width="699.5" height="442.4"/></g>
<rect x="59.0" y="451.1" width="698.1" height="1.6" fill="#7a7a7a"/>
<g stroke="#161616" stroke-width="1.4"><line x1="52.8" y1="374.8" x2="58.3" y2="374.8"/><line x1="52.8" y1="298.6" x2="58.3" y2="298.6"/><line x1="52.8" y1="222.4" x2="58.3" y2="222.4"/><line x1="52.8" y1="146.2" x2="58.3" y2="146.2"/><line x1="52.8" y1="70.0" x2="58.3" y2="70.0"/><line x1="52.8" y1="818.3" x2="58.3" y2="818.3"/><line x1="52.8" y1="738.7" x2="58.3" y2="738.7"/><line x1="52.8" y1="659.1" x2="58.3" y2="659.1"/><line x1="52.8" y1="579.5" x2="58.3" y2="579.5"/><line x1="52.8" y1="499.9" x2="58.3" y2="499.9"/><line x1="52.8" y1="1281.4" x2="58.3" y2="1281.4"/><line x1="52.8" y1="1219.1" x2="58.3" y2="1219.1"/><line x1="52.8" y1="1156.9" x2="58.3" y2="1156.9"/><line x1="52.8" y1="1094.6" x2="58.3" y2="1094.6"/><line x1="52.8" y1="1032.4" x2="58.3" y2="1032.4"/><line x1="52.8" y1="970.2" x2="58.3" y2="970.2"/><line x1="107.5" y1="898.3" x2="107.5" y2="901.9"/><line x1="157.4" y1="898.3" x2="157.4" y2="901.9"/><line x1="207.2" y1="898.3" x2="207.2" y2="901.9"/><line x1="257.0" y1="898.3" x2="257.0" y2="901.9"/><line x1="306.9" y1="898.3" x2="306.9" y2="901.9"/><line x1="356.7" y1="898.3" x2="356.7" y2="901.9"/><line x1="406.5" y1="898.3" x2="406.5" y2="901.9"/><line x1="456.4" y1="898.3" x2="456.4" y2="901.9"/><line x1="506.2" y1="898.3" x2="506.2" y2="901.9"/><line x1="556.1" y1="898.3" x2="556.1" y2="901.9"/><line x1="605.9" y1="898.3" x2="605.9" y2="901.9"/><line x1="655.7" y1="898.3" x2="655.7" y2="901.9"/><line x1="705.6" y1="898.3" x2="705.6" y2="901.9"/><line x1="755.4" y1="898.3" x2="755.4" y2="901.9"/><line x1="157.4" y1="1344.3" x2="157.4" y2="1350.2"/><line x1="257.0" y1="1344.3" x2="257.0" y2="1350.2"/><line x1="356.7" y1="1344.3" x2="356.7" y2="1350.2"/><line x1="456.4" y1="1344.3" x2="456.4" y2="1350.2"/><line x1="556.1" y1="1344.3" x2="556.1" y2="1350.2"/><line x1="655.7" y1="1344.3" x2="655.7" y2="1350.2"/><line x1="755.4" y1="1344.3" x2="755.4" y2="1350.2"/><line x1="52.5" y1="1344.3" x2="757.8" y2="1344.3"/></g>
<g font-family="Liberation Serif" fill="#111" stroke="#111" stroke-width="0.3"><text x="50.3" y="380.8" font-size="17.5" text-anchor="end" textLength="34.0" lengthAdjust="spacingAndGlyphs">5000</text><text x="50.3" y="304.6" font-size="17.5" text-anchor="end" textLength="42.5" lengthAdjust="spacingAndGlyphs">10000</text><text x="50.3" y="228.4" font-size="17.5" text-anchor="end" textLength="42.5" lengthAdjust="spacingAndGlyphs">15000</text><text x="50.3" y="152.2" font-size="17.5" text-anchor="end" textLength="42.5" lengthAdjust="spacingAndGlyphs">20000</text><text x="50.3" y="76.0" font-size="17.5" text-anchor="end" textLength="42.5" lengthAdjust="spacingAndGlyphs">25000</text><text x="50.3" y="824.6" font-size="16.5" text-anchor="end">20000</text><text x="50.3" y="745.0" font-size="16.5" text-anchor="end">40000</text><text x="50.3" y="665.4" font-size="16.5" text-anchor="end">60000</text><text x="50.3" y="585.8" font-size="16.5" text-anchor="end">80000</text><text x="50.3" y="506.2" font-size="16.5" text-anchor="end">100000</text><text x="50.3" y="1287.2" font-size="16.7" text-anchor="end">10000</text><text x="50.3" y="1225.0" font-size="16.7" text-anchor="end">20000</text><text x="50.3" y="1162.7" font-size="16.7" text-anchor="end">30000</text><text x="50.3" y="1100.5" font-size="16.7" text-anchor="end">40000</text><text x="50.3" y="1038.2" font-size="16.7" text-anchor="end">50000</text><text x="50.3" y="976.0" font-size="16.7" text-anchor="end">60000</text><text x="58.0" y="1368.8" font-size="16.5" text-anchor="middle">10000</text><text x="157.7" y="1368.8" font-size="16.5" text-anchor="middle">20000</text><text x="257.3" y="1368.8" font-size="16.5" text-anchor="middle">30000</text><text x="357.0" y="1368.8" font-size="16.5" text-anchor="middle">40000</text><text x="456.7" y="1368.8" font-size="16.5" text-anchor="middle">50000</text><text x="556.4" y="1368.8" font-size="16.5" text-anchor="middle">60000</text><text x="656.0" y="1368.8" font-size="16.5" text-anchor="middle">70000</text></g>
<g font-family="Liberation Sans" fill="#111"><text x="103.9" y="252.0" font-size="19.9" text-anchor="middle">10928.64</text><text x="103.9" y="228.3" text-anchor="middle" font-size="19.9"><tspan font-size="10.5" dy="-6.2">2+</tspan><tspan font-size="19.9" dy="6.2">E</tspan></text><text x="209.6" y="67.9" font-size="19.9" text-anchor="middle">21861.50</text><text x="209.6" y="44.2" text-anchor="middle" font-size="19.9"><tspan font-size="10.5" dy="-6.8">+</tspan><tspan font-size="19.9" dy="6.8">E</tspan></text><text x="426.8" y="407.2" font-size="19.9" text-anchor="middle">43729.14</text><text x="427.40000000000003" y="383.5" text-anchor="middle" font-size="19.9"><tspan font-size="10.5" dy="-6.8">+</tspan><tspan font-size="19.9" dy="6.8">E</tspan><tspan font-size="10.6" dx="1.2" dy="6.3">2</tspan></text><text x="645.1" y="435.3" font-size="19.9" text-anchor="middle">65548.75</text><text x="645.7" y="411.6" text-anchor="middle" font-size="19.9"><tspan font-size="10.5" dy="-6.8">+</tspan><tspan font-size="19.9" dy="6.8">E</tspan><tspan font-size="10.6" dx="1.2" dy="6.3">3</tspan></text><text x="120.7" y="506.6" font-size="19.9" text-anchor="middle">13698.3</text><text x="120.7" y="482.9" text-anchor="middle" font-size="19.9"><tspan font-size="10.5" dy="-6.8">+</tspan><tspan font-size="19.9" dy="6.8">H</tspan></text><text x="262.4" y="857.4" font-size="19.9" text-anchor="middle">27414.97</text><text x="263.0" y="833.7" text-anchor="middle" font-size="19.9"><tspan font-size="10.5" dy="-6.8">+</tspan><tspan font-size="19.9" dy="6.8">H</tspan><tspan font-size="10.6" dx="1.2" dy="6.3">2</tspan></text><text x="399.9" y="885.1" font-size="19.9" text-anchor="middle">41135.24</text><text x="400.5" y="861.4" text-anchor="middle" font-size="19.9"><tspan font-size="10.5" dy="-6.8">+</tspan><tspan font-size="19.9" dy="6.8">H</tspan><tspan font-size="10.6" dx="1.2" dy="6.3">3</tspan></text><text x="537.5" y="891.2" font-size="19.9" text-anchor="middle">54804.21</text><text x="538.1" y="867.5" text-anchor="middle" font-size="19.9"><tspan font-size="10.5" dy="-6.8">+</tspan><tspan font-size="19.9" dy="6.8">H</tspan><tspan font-size="10.6" dx="1.2" dy="6.3">4</tspan></text><text x="134.1" y="953.6" font-size="19.9" text-anchor="middle">13689.28</text><text x="134.1" y="929.9" text-anchor="middle" font-size="19.9"><tspan font-size="10.5" dy="-6.8">+</tspan><tspan font-size="19.9" dy="6.8">H</tspan></text><text x="207.5" y="1213.5" font-size="19.9" text-anchor="middle">21855.84</text><text x="207.5" y="1189.8" text-anchor="middle" font-size="19.9"><tspan font-size="10.5" dy="-6.8">+</tspan><tspan font-size="19.9" dy="6.8">E</tspan></text><text x="345.3" y="1315.0" font-size="19.9" text-anchor="middle">35557.67</text><text x="345.3" y="1291.3" text-anchor="middle" font-size="19.9"><tspan font-size="10.5" dy="-6.8">+</tspan><tspan font-size="19.9" dy="6.8">EH</tspan></text></g>
<g font-family="Liberation Sans" fill="#111"><text transform="translate(707.6,35.9) scale(0.93,1)" x="0" y="0" font-size="35.6">(<tspan dx="0.0">A</tspan><tspan dx="3.6">)</tspan></text><text transform="translate(707.7,487.0) scale(0.93,1)" x="0" y="0" font-size="35.2">(<tspan dx="0.6">B</tspan><tspan dx="2.5">)</tspan></text><text transform="translate(708.6,935.2) scale(0.95,1)" x="0" y="0" font-size="34.4">(<tspan dx="0.4">C</tspan><tspan dx="1.5">)</tspan></text><text x="0.2" y="18.6" font-size="20.8">Count</text><text x="731.6" y="1367.2" font-size="19.0" textLength="32.0" lengthAdjust="spacingAndGlyphs">m/z</text></g>
</svg>
</body></html>
